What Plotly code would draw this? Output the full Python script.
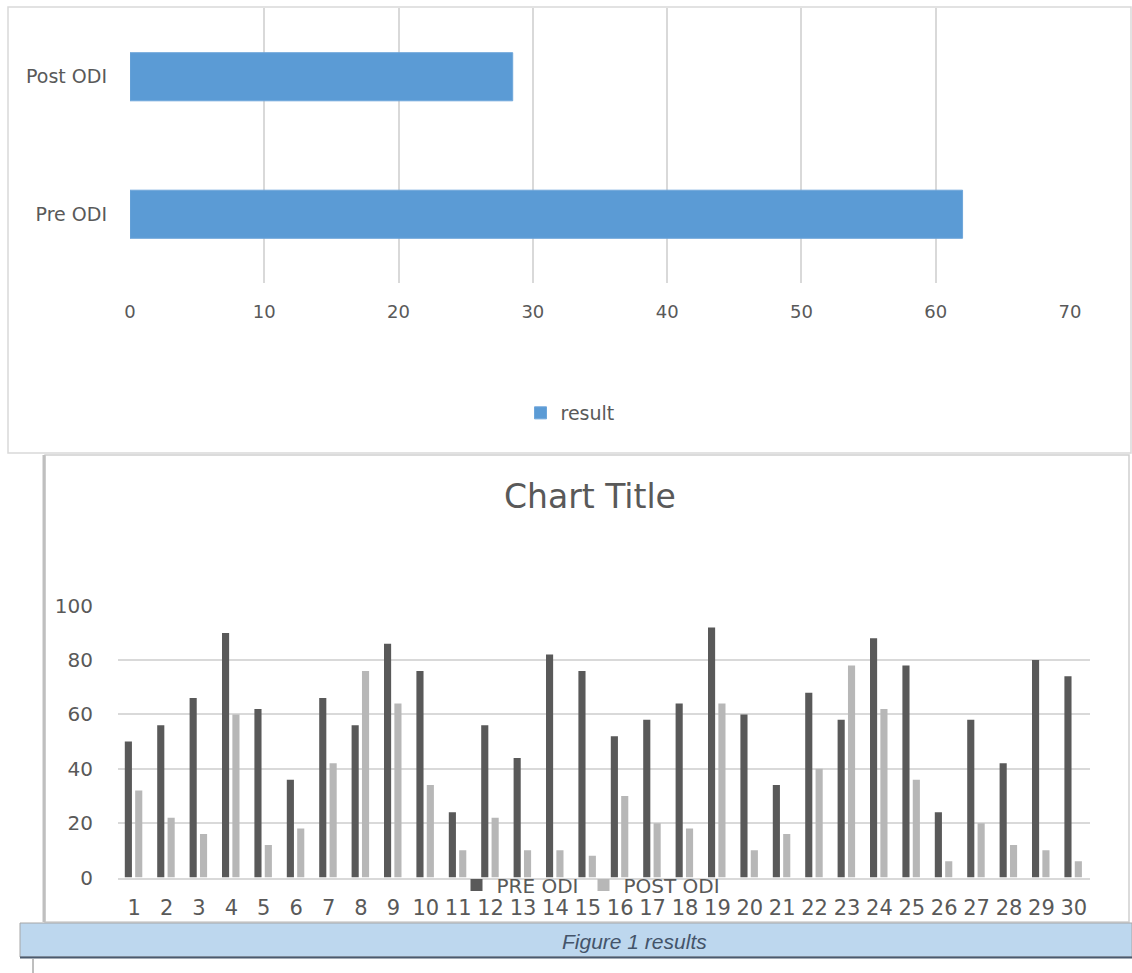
import plotly.graph_objects as go

W, H = 1132, 973

# ---- data ----
top_categories = ["Pre ODI", "Post ODI"]
top_values = [62, 28.5]
top_series_name = "result"
top_ticks = [0, 10, 20, 30, 40, 50, 60, 70]

participants = [str(i) for i in range(1, 31)]
pre_odi = [50, 56, 66, 90, 62, 36, 66, 56, 86, 76, 24, 56, 44, 82, 76,
           52, 58, 64, 92, 60, 34, 68, 58, 88, 78, 24, 58, 42, 80, 74]
post_odi = [32, 22, 16, 60, 12, 18, 42, 76, 64, 34, 10, 22, 10, 10, 8,
            30, 20, 18, 64, 10, 16, 40, 78, 62, 36, 6, 20, 12, 10, 6]
bottom_ticks = [0, 20, 40, 60, 80, 100]
chart_title = "Chart Title"
caption = "Figure 1 results"


def px(x):
    return x / W


def py(y):
    return 1 - y / H


fig = go.Figure()

# top horizontal bar chart
fig.add_trace(go.Bar(
    x=top_values, y=top_categories, orientation="h", name=top_series_name,
    marker=dict(color="#5b9bd5", line=dict(color="#6ea6da", width=1)),
    width=0.35, xaxis="x", yaxis="y", legend="legend", showlegend=True,
))

# bottom grouped column chart
fig.add_trace(go.Bar(
    x=participants, y=pre_odi, name="PRE ODI",
    marker=dict(color="#595959", line=dict(width=0)),
    width=0.22, offset=-0.29, xaxis="x2", yaxis="y2", legend="legend2",
))
fig.add_trace(go.Bar(
    x=participants, y=post_odi, name="POST ODI",
    marker=dict(color="#b7b7b7", line=dict(width=0)),
    width=0.22, offset=0.03, xaxis="x2", yaxis="y2", legend="legend2",
))

grey = "#595959"

fig.update_layout(
    width=W, height=H,
    margin=dict(l=0, r=0, t=0, b=0, pad=0, autoexpand=False),
    paper_bgcolor="white", plot_bgcolor="white",
    showlegend=True,
    barmode="overlay",
    xaxis=dict(
        domain=[px(130), px(1070)], anchor="y",
        range=[0, 70], tickvals=top_ticks,
        showgrid=True, gridcolor="#d9d9d9", gridwidth=1.5,
        zeroline=False, showline=False, ticks="",
        tickfont=dict(family="DejaVu Sans", size=18, color=grey),
        ticklabelstandoff=16,
    ),
    yaxis=dict(
        domain=[py(283), py(8)], anchor="x",
        type="category", categoryorder="array", categoryarray=top_categories,
        range=[-0.5, 1.5], showgrid=False, zeroline=False, showline=False,
        ticks="", tickfont=dict(family="DejaVu Sans", size=19, color=grey),
        ticklabelstandoff=22,
    ),
    xaxis2=dict(
        domain=[px(118), px(1090)], anchor="y2",
        type="category", categoryorder="array", categoryarray=participants,
        range=[-0.5, 29.5], showgrid=False, zeroline=False,
        showline=True, linecolor="#d9d9d9", linewidth=2, ticks="",
        tickfont=dict(family="DejaVu Sans", size=21, color=grey),
        ticklabelstandoff=10, tickangle=0,
    ),
    yaxis2=dict(
        domain=[py(877.5), py(605.7)], anchor="x2",
        range=[0, 100], tickvals=bottom_ticks,
        showgrid=True, gridcolor="#d9d9d9", gridwidth=2,
        zeroline=False, showline=False, ticks="",
        tickfont=dict(family="DejaVu Sans", size=20, color=grey),
        ticklabelstandoff=24,
    ),
    legend=dict(
        x=px(570), y=py(413), xanchor="center", yanchor="middle",
        orientation="h", font=dict(family="DejaVu Sans", size=19, color=grey),
        bgcolor="rgba(0,0,0,0)", itemwidth=30,
    ),
    legend2=dict(
        x=px(591), y=py(885), xanchor="center", yanchor="middle",
        orientation="h", font=dict(family="DejaVu Sans", size=20, color=grey),
        bgcolor="rgba(0,0,0,0)", itemwidth=30, tracegroupgap=0,
    ),
    shapes=[
        # top chart frame
        dict(type="rect", xref="paper", yref="paper",
             x0=px(8), x1=px(1131), y0=py(453), y1=py(7),
             line=dict(color="#d9d9d9", width=1.5), fillcolor="rgba(0,0,0,0)", layer="below"),
        # bottom chart frame
        dict(type="rect", xref="paper", yref="paper",
             x0=px(45), x1=px(1129), y0=py(922), y1=py(455),
             line=dict(color="#d0d0d0", width=1.5), fillcolor="rgba(0,0,0,0)", layer="below"),
        dict(type="line", xref="paper", yref="paper",
             x0=px(44), x1=px(44), y0=py(922), y1=py(455),
             line=dict(color="#bfbfbf", width=3)),
        # caption band
        dict(type="rect", xref="paper", yref="paper",
             x0=px(20), x1=px(1132), y0=py(957), y1=py(923),
             line=dict(color="#a6a6a6", width=1), fillcolor="#bdd7ee"),
        dict(type="line", xref="paper", yref="paper",
             x0=px(20), x1=px(1132), y0=py(957.5), y1=py(957.5),
             line=dict(color="#4a5a6e", width=2)),
        dict(type="line", xref="paper", yref="paper",
             x0=px(33), x1=px(33), y0=py(973), y1=py(959),
             line=dict(color="#7f7f7f", width=1)),
    ],
    annotations=[
        dict(text=chart_title, xref="paper", yref="paper",
             x=px(590), y=py(496), xanchor="center", yanchor="middle",
             showarrow=False,
             font=dict(family="DejaVu Sans", size=33, color=grey)),
        dict(text="<i>" + caption + "</i>", xref="paper", yref="paper",
             x=px(634), y=py(941), xanchor="center", yanchor="middle",
             showarrow=False,
             font=dict(family="Liberation Sans Narrow, Liberation Sans", size=21, color="#44546a")),
    ],
)

fig.write_html("out.html")
